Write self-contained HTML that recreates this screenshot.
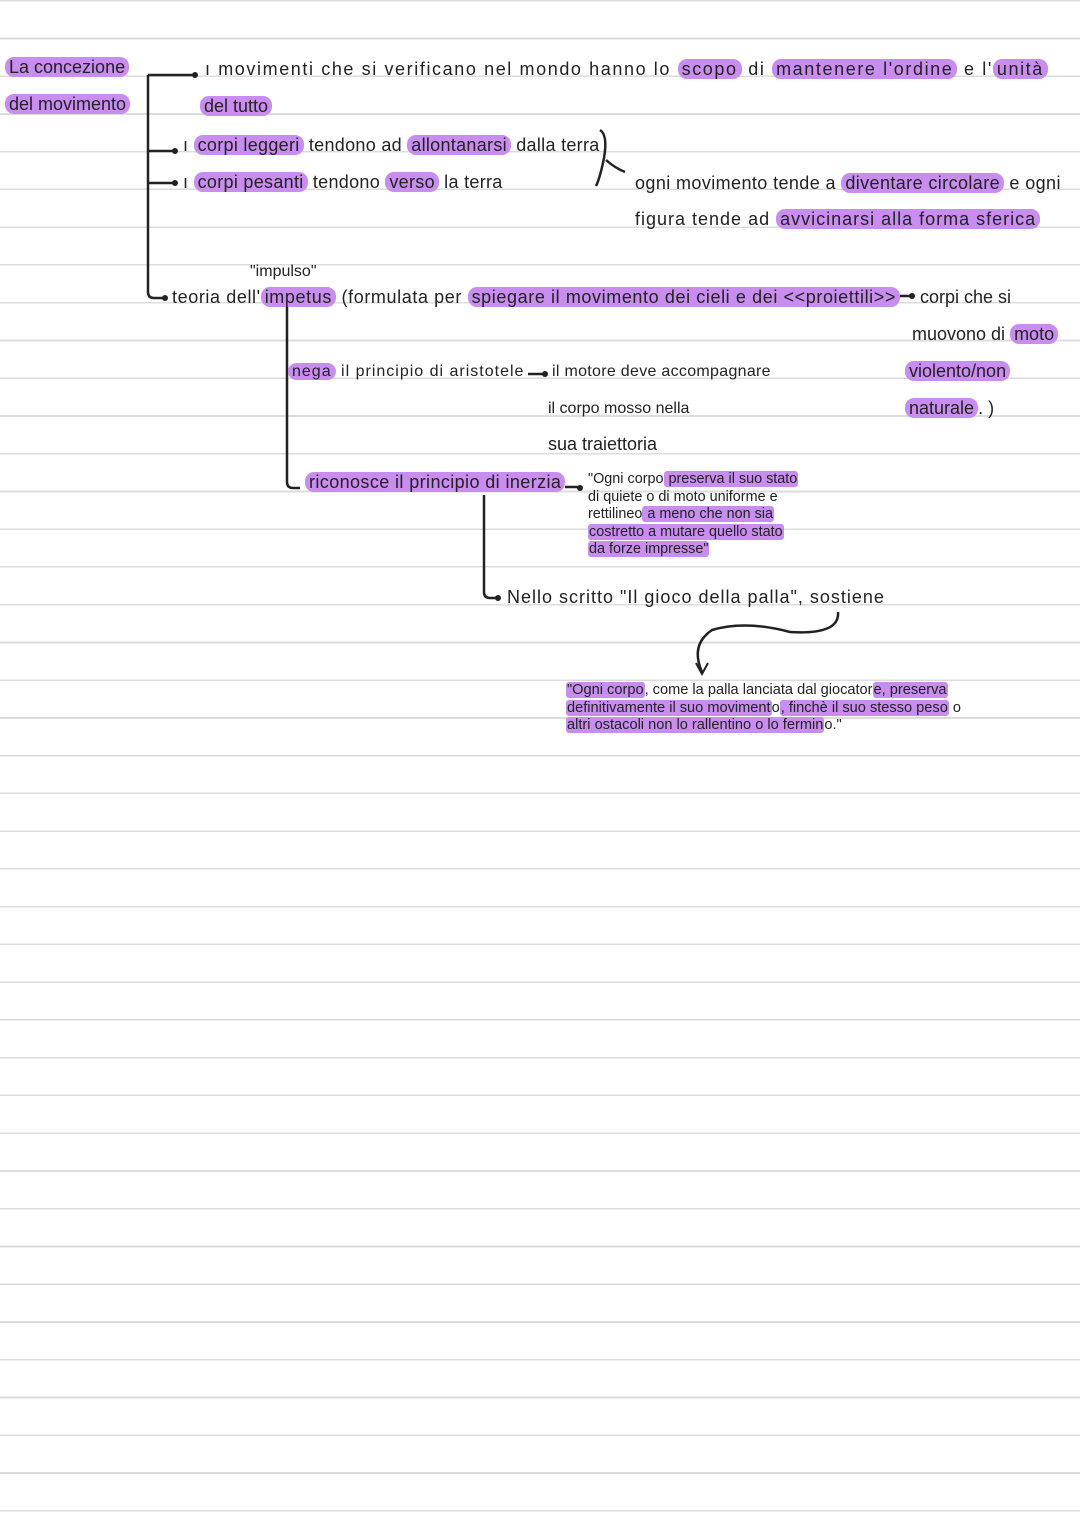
<!DOCTYPE html>
<html><head><meta charset="utf-8"><style>
body{margin:0}
#p{position:relative;width:1080px;height:1528px;background:#fff repeating-linear-gradient(to bottom,#dcdcdc 0,#dcdcdc 1.5px,transparent 1.5px,transparent 37.75px);overflow:hidden;font-family:"Liberation Sans",sans-serif;color:#222}
.t{position:absolute;font-size:18px;white-space:nowrap;line-height:24px}
.h{background:#c98df0;border-radius:9px;padding:0 4px}
.q{position:absolute;font-size:14.4px;line-height:17.5px;white-space:nowrap}
.q .h{border-radius:3px;padding:0 1px}
svg{position:absolute;left:0;top:0}
</style></head><body><div id="p">
<svg width="1080" height="1528" fill="none" stroke="#222" stroke-width="2.5">
<path d="M148 75V292Q148 298 154 298H165"/>
<path d="M148 75H195M148 151H175M148 183H175"/>
<path d="M287 305V482Q287 488 293 488H300M287 372H293"/>
<path d="M484 495V592Q484 598 490 598H498"/>
<path d="M565 487H580M528 374H545M895 296H912"/>
<path d="M600 130Q608 135 604 158Q600 178 596 186M606 160Q615 168 625 172"/>
<path d="M838 612Q840 635 790 632Q745 620 712 630Q690 645 702 672"/>
<path d="M696 663L702 674L708 663" stroke-width="2"/>
<g fill="#222" stroke="none"><circle cx="195" cy="75" r="3"/><circle cx="175" cy="151" r="3"/><circle cx="175" cy="183" r="3"/><circle cx="165" cy="298" r="3"/><circle cx="580" cy="488" r="3"/><circle cx="545" cy="374" r="3"/><circle cx="498" cy="598" r="3"/><circle cx="912" cy="296" r="3"/></g>
</svg>
<div class="t" style="left:5px;top:55px"><span class="h">La concezione</span></div>
<div class="t" style="left:5px;top:92px"><span class="h">del movimento</span></div>
<div class="t" style="left:205px;top:57px;letter-spacing:1.6px">ı movimenti che si verificano nel mondo hanno lo <span class="h">scopo</span> di <span class="h">mantenere l'ordine</span> e l'<span class="h">unità</span></div>
<div class="t" style="left:200px;top:94px"><span class="h">del tutto</span></div>
<div class="t" style="left:183px;top:133px;letter-spacing:0.3px">ı <span class="h">corpi leggeri</span> tendono ad <span class="h">allontanarsi</span> dalla terra</div>
<div class="t" style="left:183px;top:170px;letter-spacing:0.3px">ı <span class="h">corpi pesanti</span> tendono <span class="h">verso</span> la terra</div>
<div class="t" style="left:635px;top:171px;letter-spacing:0.4px">ogni movimento tende a <span class="h">diventare circolare</span> e ogni</div>
<div class="t" style="left:635px;top:207px;letter-spacing:1px">figura tende ad <span class="h">avvicinarsi alla forma sferica</span></div>
<div class="t" style="left:250px;top:260px;font-size:16px">"impulso"</div>
<div class="t" style="left:172px;top:285px;letter-spacing:0.6px">teoria dell'<span class="h">impetus</span> (formulata per <span class="h">spiegare il movimento dei cieli e dei &lt;&lt;proiettili&gt;&gt;</span></div>
<div class="t" style="left:920px;top:285px">corpi che si</div>
<div class="t" style="left:912px;top:322px">muovono di <span class="h">moto</span></div>
<div class="t" style="left:905px;top:359px"><span class="h">violento/non</span></div>
<div class="t" style="left:905px;top:396px"><span class="h">naturale</span>. )</div>
<div class="t" style="left:288px;top:360px;font-size:16px;letter-spacing:1px"><span class="h">nega</span> il principio di aristotele</div>
<div class="t" style="left:552px;top:360px;font-size:16px;letter-spacing:0.3px">il motore deve accompagnare</div>
<div class="t" style="left:548px;top:397px;font-size:16px">il corpo mosso nella</div>
<div class="t" style="left:548px;top:432px">sua traiettoria</div>
<div class="t" style="left:305px;top:470px;letter-spacing:0.4px"><span class="h">riconosce il principio di inerzia</span></div>
<div class="q" style="left:588px;top:471px">"Ogni corpo<span class="h"> preserva il suo stato</span><br>di quiete o di moto uniforme e<br>rettilineo<span class="h"> a meno che non sia</span><br><span class="h">costretto a mutare quello stato</span><br><span class="h">da forze impresse"</span></div>
<div class="t" style="left:507px;top:585px;letter-spacing:1px">Nello scritto "Il gioco della palla", sostiene</div>
<div class="q" style="left:566px;top:682px;font-size:14.6px"><span class="h">"Ogni corpo</span>, come la palla lanciata dal giocator<span class="h">e, preserva</span><br><span class="h">definitivamente il suo moviment</span>o<span class="h">, finchè il suo stesso peso</span> o<br><span class="h">altri ostacoli non lo rallentino o lo fermin</span>o."</div>
</div></body></html>
